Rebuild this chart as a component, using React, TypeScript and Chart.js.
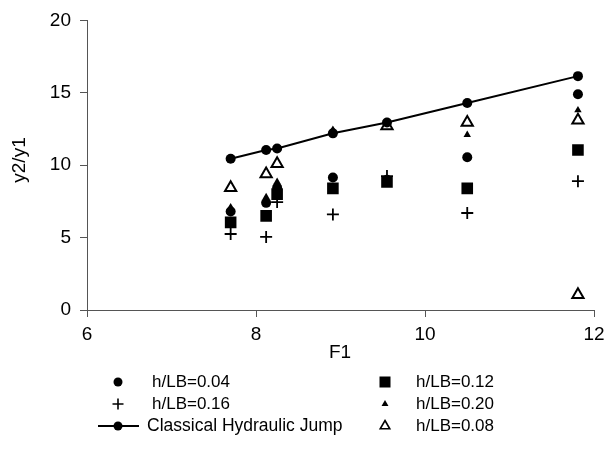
import React, { useEffect, useRef } from 'react';
import { Chart, registerables } from 'chart.js';

Chart.register(...registerables);

// ---- data ----
const F1 = [7.7, 8.12, 8.25, 8.91, 9.55, 10.5, 11.81];
const classical = [10.45, 11.05, 11.15, 12.2, 12.95, 14.3, 16.15];
const h004 = [6.8, 7.4, 8.45, 9.15, 9.0, 10.55, 14.9];
const h012 = [6.05, 6.5, 8.0, 8.4, 8.85, 8.4, 11.05];
const h016 = [5.25, 5.05, 7.45, 6.6, 9.25, 6.7, 8.9];
const h020 = [7.1, 7.8, 8.85, 12.45, null, 12.1, 13.8];
const h008F1 = [7.7, 8.12, 8.25, 9.55, 10.5, 11.81, 11.81];
const h008 = [8.45, 9.4, 10.1, 12.7, 12.95, 13.1, 1.05];

const xTicks = [6, 8, 10, 12];
const yTicks = [0, 5, 10, 15, 20];

const xTitle = 'F1';
const yTitle = 'y2/y1';
const names = {
  h004: 'h/LB=0.04',
  h012: 'h/LB=0.12',
  h016: 'h/LB=0.16',
  h020: 'h/LB=0.20',
  classical: 'Classical Hydraulic Jump',
  h008: 'h/LB=0.08',
};

const FONT = '"Liberation Sans", Arial, Helvetica, sans-serif';

const pts = (xs: number[], ys: (number | null)[]) =>
  xs.map((x, i) => ({ x, y: ys[i] }));

function drawMarker(ctx: CanvasRenderingContext2D, kind: string, x: number, y: number) {
  ctx.save();
  ctx.fillStyle = '#000';
  ctx.strokeStyle = '#000';
  if (kind === 'circle') {
    ctx.beginPath();
    ctx.arc(x, y, 4.5, 0, Math.PI * 2);
    ctx.fill();
  } else if (kind === 'rect') {
    ctx.fillRect(x - 5.5, y - 5.5, 11, 11);
  } else if (kind === 'cross') {
    ctx.lineWidth = 1.6;
    ctx.beginPath();
    ctx.moveTo(x - 5.5, y);
    ctx.lineTo(x + 5.5, y);
    ctx.moveTo(x, y - 5.5);
    ctx.lineTo(x, y + 5.5);
    ctx.stroke();
  } else if (kind === 'tri') {
    const r = 4;
    ctx.beginPath();
    for (let k = 0; k < 3; k++) {
      const a = (k * 2 * Math.PI) / 3;
      const px = x + Math.sin(a) * r;
      const py = y - Math.cos(a) * r;
      if (k === 0) ctx.moveTo(px, py);
      else ctx.lineTo(px, py);
    }
    ctx.closePath();
    ctx.fill();
  } else if (kind === 'otri') {
    const r = 5.5;
    ctx.lineWidth = 1.6;
    ctx.beginPath();
    for (let k = 0; k < 3; k++) {
      const a = (k * 2 * Math.PI) / 3;
      const px = x + Math.sin(a) * r;
      const py = y - Math.cos(a) * r;
      if (k === 0) ctx.moveTo(px, py);
      else ctx.lineTo(px, py);
    }
    ctx.closePath();
    ctx.stroke();
  } else if (kind === 'line') {
    ctx.lineWidth = 2;
    ctx.beginPath();
    ctx.moveTo(x - 20, y);
    ctx.lineTo(x + 21, y);
    ctx.stroke();
    ctx.beginPath();
    ctx.arc(x, y, 4.5, 0, Math.PI * 2);
    ctx.fill();
  }
  ctx.restore();
}

const overlayPlugin = {
  id: 'overlay',
  afterDraw(chart: any) {
    const ctx: CanvasRenderingContext2D = chart.ctx;
    ctx.save();
    ctx.fillStyle = '#000';
    ctx.textBaseline = 'middle';
    // axis titles
    ctx.font = `19px ${FONT}`;
    ctx.textAlign = 'center';
    ctx.fillText(xTitle, 340, 353);
    ctx.save();
    ctx.translate(20, 160);
    ctx.rotate(-Math.PI / 2);
    ctx.fillText(yTitle, 0, 0);
    ctx.restore();

    // legend
    const items = [
      { kind: 'circle', label: names.h004, col: 0, row: 0 },
      { kind: 'rect', label: names.h012, col: 1, row: 0 },
      { kind: 'cross', label: names.h016, col: 0, row: 1 },
      { kind: 'tri', label: names.h020, col: 1, row: 1 },
      { kind: 'line', label: names.classical, col: 0, row: 2 },
      { kind: 'otri', label: names.h008, col: 1, row: 2 },
    ];
    const colMarker = [118, 385];
    const colText = [152, 416];
    const rowY = [382, 404, 426];
    ctx.textAlign = 'left';
    items.forEach((it) => {
      const y = rowY[it.row];
      drawMarker(ctx, it.kind, colMarker[it.col], y);
      if (it.kind === 'line') {
        ctx.font = `17.5px ${FONT}`;
        ctx.fillText(it.label, 147, y);
      } else {
        ctx.font = `17px ${FONT}`;
        ctx.fillText(it.label, colText[it.col], y);
      }
    });
    ctx.restore();
  },
};

export default function App() {
  const ref = useRef<HTMLCanvasElement | null>(null);

  useEffect(() => {
    if (!ref.current) return;
    const chart = new Chart(ref.current, {
      type: 'scatter',
      data: {
        datasets: [
          {
            label: names.classical,
            data: pts(F1, classical),
            pointStyle: 'circle',
            pointRadius: 5,
            pointBackgroundColor: '#000',
            pointBorderWidth: 0,
            borderColor: '#000',
            borderWidth: 2,
            showLine: true,
          },
          {
            label: names.h020,
            data: pts(F1, h020),
            pointStyle: 'triangle',
            pointRadius: 4.3,
            pointBackgroundColor: '#000',
            pointBorderWidth: 0,
            showLine: false,
          },
          {
            label: names.h004,
            data: pts(F1, h004),
            pointStyle: 'circle',
            pointRadius: 5,
            pointBackgroundColor: '#000',
            pointBorderWidth: 0,
            showLine: false,
          },
          {
            label: names.h012,
            data: pts(F1, h012),
            pointStyle: 'rect',
            pointRadius: 8.2,
            pointBackgroundColor: '#000',
            pointBorderWidth: 0,
            showLine: false,
          },
          {
            label: names.h016,
            data: pts(F1, h016),
            pointStyle: 'cross',
            pointRadius: 6,
            pointBorderColor: '#000',
            pointBorderWidth: 1.8,
            showLine: false,
          },
          {
            label: names.h008,
            data: pts(h008F1, h008),
            pointStyle: 'triangle',
            pointRadius: 6.5,
            pointBackgroundColor: '#fff',
            pointBorderColor: '#000',
            pointBorderWidth: 2,
            showLine: false,
          },
        ],
      },
      options: {
        animation: false,
        responsive: false,
        devicePixelRatio: 1,
        events: [],
        layout: { padding: { left: 0, top: 20, right: 21, bottom: 0 } },
        plugins: {
          legend: { display: false },
          tooltip: { enabled: false },
          title: { display: false },
        },
        scales: {
          x: {
            type: 'linear',
            min: xTicks[0],
            max: xTicks[xTicks.length - 1],
            afterBuildTicks: (s: any) => {
              s.ticks = xTicks.map((v) => ({ value: v }));
            },
            afterFit: (s: any) => {
              s.height = 140;
            },
            ticks: {
              color: '#000',
              font: { family: FONT, size: 19 },
              padding: 6,
              maxRotation: 0,
            },
            grid: {
              drawOnChartArea: false,
              drawTicks: true,
              tickLength: 7,
              color: '#555',
            },
            border: { display: true, color: '#555', width: 1 },
          },
          y: {
            type: 'linear',
            min: yTicks[0],
            max: yTicks[yTicks.length - 1],
            afterBuildTicks: (s: any) => {
              s.ticks = yTicks.map((v) => ({ value: v }));
            },
            afterFit: (s: any) => {
              s.width = 87;
            },
            ticks: {
              color: '#000',
              font: { family: FONT, size: 19 },
              padding: 9,
            },
            grid: {
              drawOnChartArea: false,
              drawTicks: true,
              tickLength: 7,
              color: '#555',
            },
            border: { display: true, color: '#555', width: 1 },
          },
        },
      },
      plugins: [overlayPlugin],
    } as any);
    return () => chart.destroy();
  }, []);

  return (
    <div style={{ position: 'absolute', left: 0, top: 0, width: 615, height: 450, background: '#fff' }}>
      <canvas ref={ref} width={615} height={450} style={{ width: 615, height: 450, display: 'block' }} />
    </div>
  );
}
